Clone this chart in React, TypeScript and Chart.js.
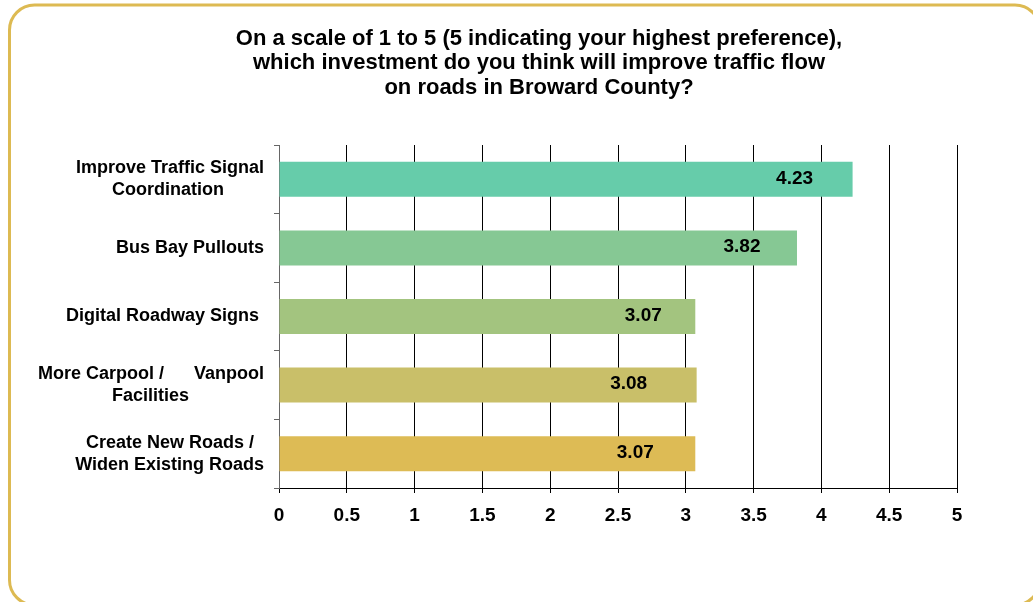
import React, { useEffect, useRef } from "react";
import { Chart, registerables } from "chart.js";

Chart.register(...registerables);

const titleLines = [
  "On a scale of 1 to 5 (5 indicating your highest preference),",
  "which investment do you think will improve traffic flow",
  "on roads in Broward County?",
];

const categories: string[][] = [
  ["Improve Traffic Signal", "Coordination        "],
  ["Bus Bay Pullouts"],
  ["Digital Roadway Signs "],
  ["More Carpool /      Vanpool", "Facilities               "],
  ["Create New Roads /  ", "Widen Existing Roads"],
];

const values = [4.23, 3.82, 3.07, 3.08, 3.07];

const barColors = ["#66CCAA", "#86C894", "#A3C47F", "#C9BF69", "#DDBB55"];

// pixel distance of each value label's centre back from the bar end
const labelOffsets = [58, 55, 52, 68, 60];

const axisMin = 0;
const axisMax = 5;
const axisStep = 0.5;

const FONT = "'Liberation Sans', Arial, sans-serif";

const framePlugin = {
  id: "frame",
  beforeDraw(chart: any) {
    const ctx = chart.ctx as CanvasRenderingContext2D;
    ctx.save();
    ctx.fillStyle = "#ffffff";
    ctx.fillRect(0, 0, chart.width, chart.height);
    ctx.strokeStyle = "#DDBA52";
    ctx.lineWidth = 3;
    ctx.beginPath();
    (ctx as any).roundRect(9.5, 5, 1030.5, 600, 25);
    ctx.stroke();
    ctx.restore();
  },
};

const titlePlugin = {
  id: "customTitle",
  afterDraw(chart: any) {
    const ctx = chart.ctx as CanvasRenderingContext2D;
    ctx.save();
    ctx.fillStyle = "#000";
    ctx.font = `bold 22px ${FONT}`;
    ctx.textAlign = "center";
    ctx.textBaseline = "alphabetic";
    titleLines.forEach((line, i) => {
      ctx.fillText(line, 539, 44.5 + i * 24.7);
    });
    ctx.restore();
  },
};

const valueLabelPlugin = {
  id: "valueLabels",
  afterDatasetsDraw(chart: any) {
    const ctx = chart.ctx as CanvasRenderingContext2D;
    const meta = chart.getDatasetMeta(0);
    ctx.save();
    ctx.fillStyle = "#000";
    ctx.font = `bold 19px ${FONT}`;
    ctx.textAlign = "center";
    ctx.textBaseline = "middle";
    meta.data.forEach((bar: any, i: number) => {
      ctx.fillText(values[i].toFixed(2), bar.x - labelOffsets[i], bar.y - 1);
    });
    ctx.restore();
  },
};

export default function App() {
  const ref = useRef<HTMLCanvasElement | null>(null);

  useEffect(() => {
    if (!ref.current) return;
    const chart = new Chart(ref.current, {
      type: "bar",
      data: {
        labels: categories,
        datasets: [
          {
            data: values,
            backgroundColor: barColors,
            borderWidth: 0,
            categoryPercentage: 1,
            barPercentage: 0.51,
          },
        ],
      },
      options: {
        indexAxis: "y",
        responsive: false,
        animation: false,
        layout: { padding: { left: 10, right: 76, top: 145, bottom: 74 } },
        plugins: {
          legend: { display: false },
          tooltip: { enabled: false },
          title: { display: false },
        },
        scales: {
          x: {
            type: "linear",
            min: axisMin,
            max: axisMax,
            afterFit: (s: any) => {
              s.height = 40;
            },
            ticks: {
              stepSize: axisStep,
              color: "#000",
              padding: 11,
              font: { family: FONT, size: 19, weight: "bold" },
              callback: (v: any) => String(v),
            },
            grid: { color: "#000", lineWidth: 1, tickLength: 5 },
            border: { color: "#000", width: 1 },
          },
          y: {
            afterFit: (s: any) => {
              s.width = 269;
            },
            ticks: {
              color: "#000",
              padding: 10,
              font: { family: FONT, size: 18, weight: "bold", lineHeight: 22 / 18 },
            },
            grid: { drawOnChartArea: false, tickLength: 5, color: "#666", offset: true },
            border: { color: "#666", width: 1 },
          },
        },
      },
      plugins: [framePlugin, valueLabelPlugin, titlePlugin],
    });
    return () => chart.destroy();
  }, []);

  return (
    <canvas
      ref={ref}
      width={1033}
      height={602}
      style={{ position: "fixed", left: 0, top: 0, display: "block" }}
    />
  );
}
